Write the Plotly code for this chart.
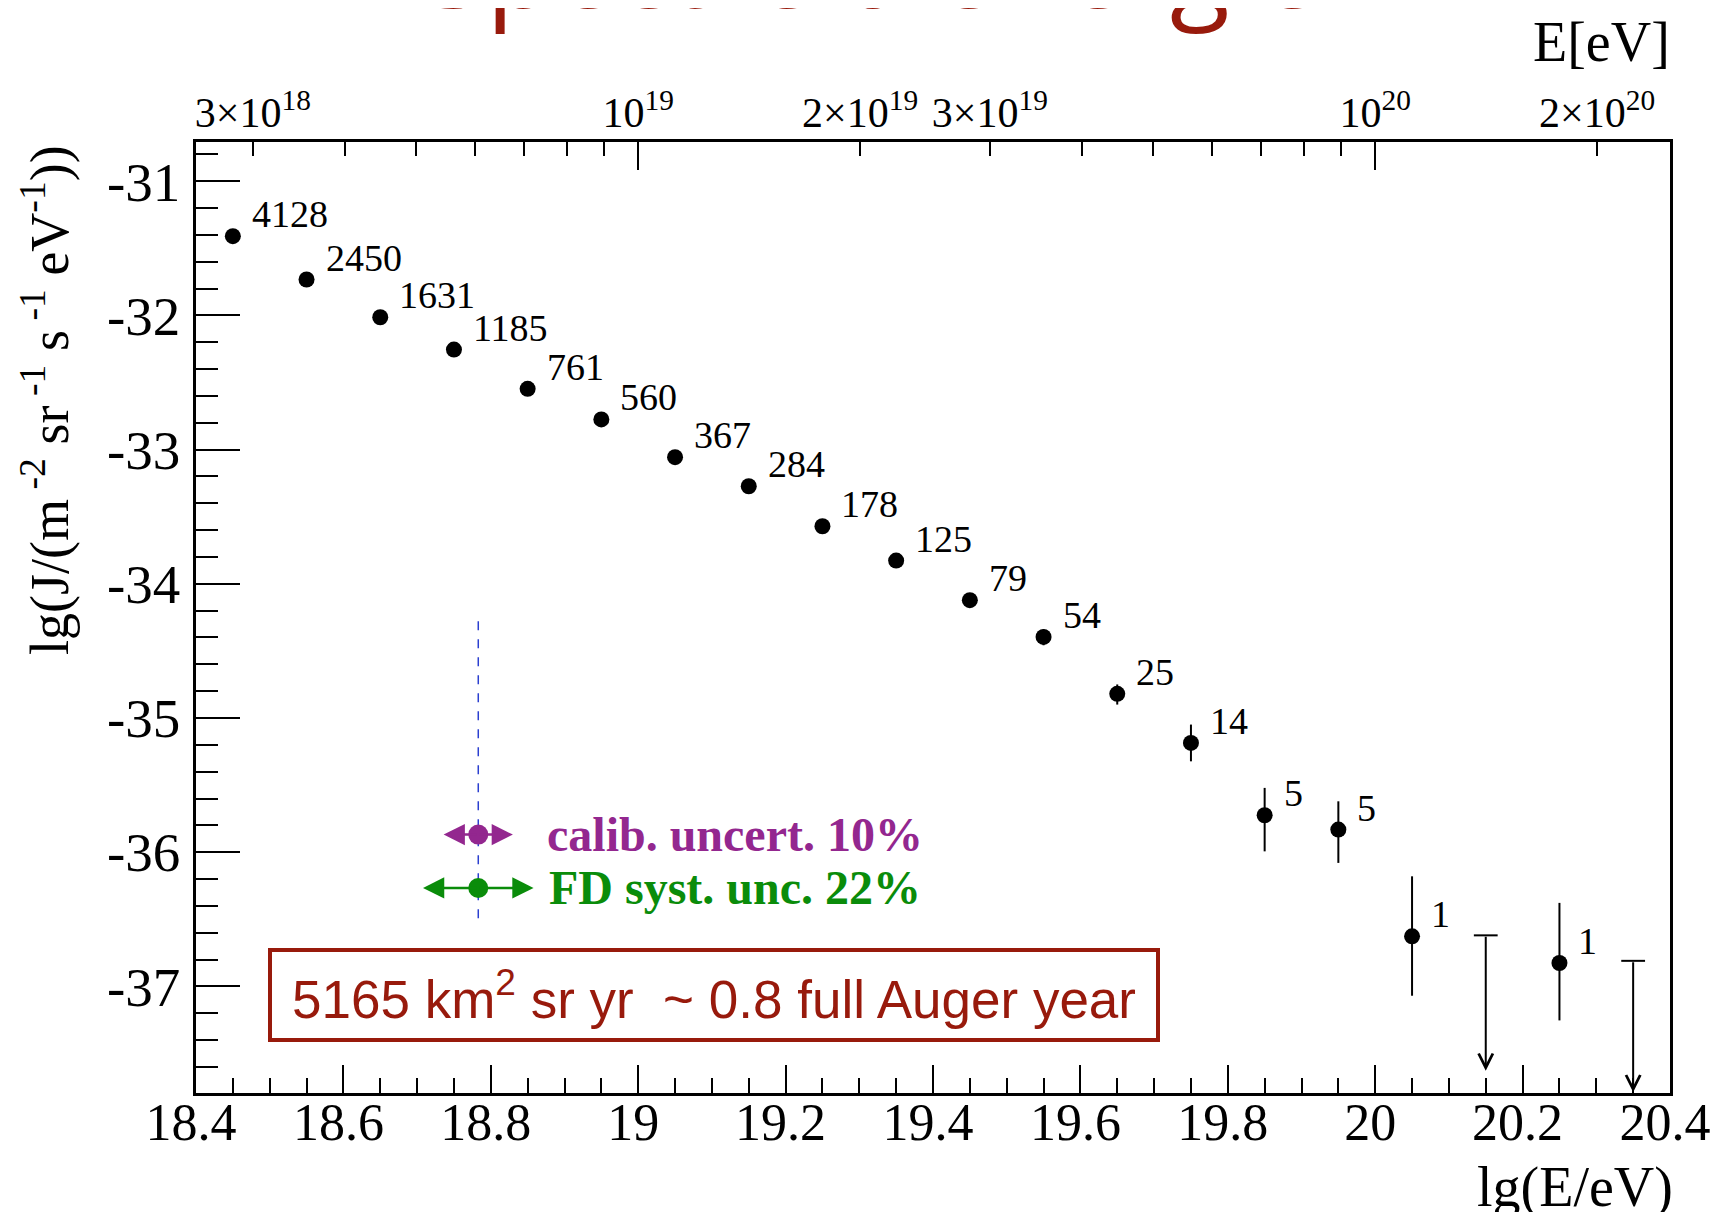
import math
import plotly.graph_objects as go

# ---------------- data ----------------
lgE = [18.45, 18.55, 18.65, 18.75, 18.85, 18.95, 19.05, 19.15, 19.25,
       19.35, 19.45, 19.55, 19.65, 19.75, 19.85, 19.95, 20.05, 20.25]
lgJ = [-31.409, -31.732, -32.013, -32.254, -32.547, -32.775, -33.056, -33.273, -33.571,
       -33.827, -34.122, -34.396, -34.820, -35.186, -35.725, -35.832, -36.627, -36.826]
err_up = [0.007, 0.009, 0.011, 0.012, 0.015, 0.018, 0.022, 0.025, 0.032,
          0.038, 0.047, 0.057, 0.07, 0.137, 0.204, 0.211, 0.447, 0.448]
err_dn = [0.007, 0.009, 0.011, 0.013, 0.016, 0.019, 0.023, 0.027, 0.034,
          0.040, 0.050, 0.062, 0.08, 0.137, 0.269, 0.248, 0.443, 0.428]
counts = [4128, 2450, 1631, 1185, 761, 560, 367, 284, 178,
          125, 79, 54, 25, 14, 5, 5, 1, 1]

# upper limits
ul_lgE = [20.15, 20.35]
ul_top = [-36.62, -36.81]
ul_tip = [-37.63, -37.79]

# systematic-uncertainty markers
calib_x = 18.783
calib_y = -35.869
calib_half = 0.047
fd_y = -36.267
fd_half = 0.075
vline_y = [-34.279, -36.528]

# axes
x_range = [18.4, 20.4]
y_range = [-37.795, -30.707]
y_ticks = [-37, -36, -35, -34, -33, -32, -31]
y_ticktext = ["-37", "-36", "-35", "-34", "-33", "-32", "-31"]
top_E = [3e18, 1e19, 2e19, 3e19, 1e20, 2e20]
top_text = ["3×10<sup>18</sup>", "10<sup>19</sup>", "2×10<sup>19</sup>",
            "3×10<sup>19</sup>", "10<sup>20</sup>", "2×10<sup>20</sup>"]
top_minor_E = [4e18, 5e18, 6e18, 7e18, 8e18, 9e18,
               4e19, 5e19, 6e19, 7e19, 8e19, 9e19]
top_decades = [1e19, 1e20]

# ---------------- styling ----------------
OFF = 8                      # page body margin
W, H = 1731 - 2 * OFF, 1220 - 2 * OFF
ML = 196 - OFF
MT = 142 - OFF
MR = W - (1679 - OFF)
MB = H - (1093 - OFF)
PW, PH = W - ML - MR, H - MT - MB
SERIF = "Liberation Serif, Times New Roman, serif"
SANS = "Liberation Sans, Arial, sans-serif"
DARKRED = "#981a0c"
PURPLE = "#93278f"
GREEN = "#0a8c0a"


def px_x(p):
    return (p - OFF - ML) / PW


def px_y(p):
    return 1 - (p - OFF - MT) / PH


fig = go.Figure()

fig.add_trace(go.Scatter(
    x=lgE, y=lgJ, mode="markers",
    marker=dict(size=16, color="black"),
    error_y=dict(type="data", symmetric=False, array=err_up, arrayminus=err_dn,
                 thickness=2, width=0, color="black"),
    showlegend=False, hoverinfo="skip"))

# upper-limit caps
fig.add_trace(go.Scatter(
    x=ul_lgE, y=ul_top, mode="markers",
    marker=dict(symbol="line-ew", size=17, line=dict(width=2, color="black")),
    showlegend=False, hoverinfo="skip"))

# blue dashed vertical line
fig.add_trace(go.Scatter(
    x=[calib_x, calib_x], y=vline_y, mode="lines",
    line=dict(color="#2b3fd0", width=1.5, dash="dash"),
    showlegend=False, hoverinfo="skip"))

# centre dots for uncertainty markers
fig.add_trace(go.Scatter(
    x=[calib_x], y=[calib_y], mode="markers",
    marker=dict(size=20, color=PURPLE), showlegend=False, hoverinfo="skip"))
fig.add_trace(go.Scatter(
    x=[calib_x], y=[fd_y], mode="markers",
    marker=dict(size=20, color=GREEN), showlegend=False, hoverinfo="skip"))

# dummy traces for top axes
fig.add_trace(go.Scatter(x=[math.log10(top_E[0])], y=[y_range[0] - 1], xaxis="x2",
                         mode="markers", marker=dict(opacity=0),
                         showlegend=False, hoverinfo="skip"))
fig.add_trace(go.Scatter(x=[19.0], y=[y_range[0] - 1], xaxis="x3",
                         mode="markers", marker=dict(opacity=0),
                         showlegend=False, hoverinfo="skip"))

annotations = []
for x, y, c in zip(lgE, lgJ, counts):
    annotations.append(dict(x=x, y=y, xref="x", yref="y", text=str(c),
                            showarrow=False, xanchor="left", yanchor="middle",
                            xshift=17, yshift=22,
                            font=dict(family=SERIF, size=38, color="black")))

for x, yt, yb in zip(ul_lgE, ul_top, ul_tip):
    annotations.append(dict(x=x, y=yb, ax=x, ay=yt, xref="x", yref="y",
                            axref="x", ayref="y", text="", showarrow=True,
                            arrowhead=5, arrowsize=1.4, arrowwidth=2,
                            arrowcolor="black", standoff=0, startstandoff=0))

for half, yv, col in [(calib_half, calib_y, PURPLE), (fd_half, fd_y, GREEN)]:
    for sgn in (-1, 1):
        annotations.append(dict(x=calib_x + sgn * half, y=yv, ax=calib_x, ay=yv,
                                xref="x", yref="y", axref="x", ayref="y", text="",
                                showarrow=True, arrowhead=2, arrowsize=1.7,
                                arrowwidth=2.5, arrowcolor=col, standoff=0))

annotations.append(dict(x=px_x(547), y=calib_y, xref="paper", yref="y",
                        text="<b>calib. uncert. 10%</b>", showarrow=False,
                        xanchor="left", yanchor="middle",
                        font=dict(family=SERIF, size=48, color=PURPLE)))
annotations.append(dict(x=px_x(549), y=fd_y, xref="paper", yref="y",
                        text="<b>FD syst. unc. 22%</b>", showarrow=False,
                        xanchor="left", yanchor="middle",
                        font=dict(family=SERIF, size=48, color=GREEN)))

# exposure box
annotations.append(dict(x=px_x(717), y=px_y(995), xref="paper", yref="paper",
                        text="5165 km<sup>2</sup> sr yr \u00a0~ 0.8 full Auger year",
                        showarrow=False, xanchor="center", yanchor="middle",
                        width=872, height=74, borderpad=6, borderwidth=4,
                        bordercolor=DARKRED, bgcolor="white",
                        font=dict(family=SANS, size=53, color=DARKRED)))

# axis titles
annotations.append(dict(x=px_x(44), y=px_y(400), xref="paper", yref="paper",
                        text="lg(J/(m<sup> -2</sup> sr<sup> -1</sup> s<sup> -1</sup> eV<sup>-1</sup>))",
                        textangle=-90, showarrow=False, xanchor="center", yanchor="middle",
                        font=dict(family=SERIF, size=54, color="black")))
annotations.append(dict(x=px_x(1684), y=px_y(1187), xref="paper", yref="paper",
                        text="lg(E/eV)", showarrow=False, xanchor="right", yanchor="middle",
                        font=dict(family=SERIF, size=56, color="black")))
annotations.append(dict(x=px_x(1681), y=px_y(42), xref="paper", yref="paper",
                        text="E[eV]", showarrow=False, xanchor="right", yanchor="middle",
                        font=dict(family=SERIF, size=56, color="black")))

# cut-off slide title
annotations.append(dict(x=px_x(425), y=px_y(42), xref="paper", yref="paper",
                        text="Spectre d'énergie", showarrow=False,
                        xanchor="left", yanchor="bottom",
                        font=dict(family="Open Sans, sans-serif", size=110, color=DARKRED)))

axis_common = dict(showgrid=False, zeroline=False, linecolor="black", linewidth=2.5,
                   tickcolor="black", tickwidth=2, showline=True)

fig.update_layout(
    width=W, height=H,
    margin=dict(l=ML, r=MR, t=MT, b=MB),
    paper_bgcolor="white", plot_bgcolor="white",
    xaxis=dict(range=x_range, tickmode="linear", tick0=18.4, dtick=0.2,
               ticks="inside", ticklen=28, mirror=True,
               tickfont=dict(family=SERIF, size=52, color="black"),
               ticklabelstandoff=-18, ticklabelshift=-5,
               minor=dict(tickmode="linear", tick0=18.4, dtick=0.05, ticks="inside",
                          ticklen=15, tickwidth=2, tickcolor="black"),
               **axis_common),
    yaxis=dict(range=y_range, tickmode="array", tickvals=y_ticks, ticktext=y_ticktext,
               ticks="inside", ticklen=44, mirror=True,
               tickfont=dict(family=SERIF, size=55, color="black"),
               ticklabelstandoff=2,
               minor=dict(tickmode="linear", tick0=-31, dtick=0.2, ticks="inside",
                          ticklen=22, tickwidth=2, tickcolor="black"),
               **axis_common),
    xaxis2=dict(overlaying="x", side="top", range=x_range, tickmode="array",
                tickvals=[math.log10(e) for e in top_E], ticktext=top_text,
                ticks="inside", ticklen=14,
                tickfont=dict(family=SERIF, size=42, color="black"),
                ticklabelstandoff=-5,
                minor=dict(tickmode="array", tickvals=[math.log10(e) for e in top_minor_E],
                           ticks="inside", ticklen=14, tickwidth=2, tickcolor="black"),
                **axis_common),
    xaxis3=dict(overlaying="x", side="top", range=x_range, tickmode="array",
                tickvals=[math.log10(e) for e in top_decades], ticks="inside",
                ticklen=28, showticklabels=False, **axis_common),
    annotations=annotations,
    showlegend=False,
)

fig.write_html("out.html", config={"displayModeBar": False})
